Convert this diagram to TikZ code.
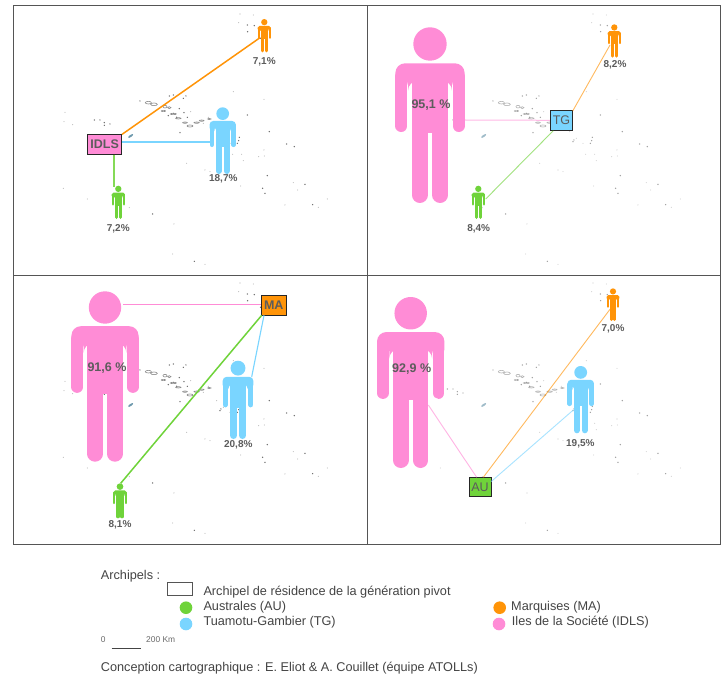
\documentclass[tikz,border=0pt]{standalone}
\usepackage{fontspec}
\setmainfont{Liberation Sans}
\definecolor{cpink}{HTML}{FF8CD6}
\definecolor{cblue}{HTML}{7AD5FF}
\definecolor{cgreen}{HTML}{6FD33A}
\definecolor{corange}{HTML}{FF9408}
\definecolor{ctext}{HTML}{5C5C5C}
\definecolor{cframe}{HTML}{555555}
\definecolor{clegend}{HTML}{444444}
\tikzset{
  archbox/.style={draw=black!85,line width=0.8pt,inner sep=0pt,text=ctext,font=\fontsize{12.5}{14}\selectfont},
  pct/.style={text=ctext,inner sep=0pt,font=\fontsize{10}{12}\selectfont\bfseries},
  bigpct/.style={text=ctext,inner sep=0pt,font=\fontsize{12.5}{14}\selectfont\bfseries},
  legtext/.style={text=clegend,inner sep=0pt,anchor=west,font=\fontsize{12.7}{15}\selectfont},
  smalltext/.style={text=clegend!80,inner sep=0pt,anchor=west,font=\fontsize{8.4}{10}\selectfont},
  legdot/.style={circle,inner sep=0pt,minimum size=12.6pt},
  thick link/.style={line width=1.5pt},
  thin link/.style={line width=0.9pt,opacity=0.65},
}
% centre x, top y, height, colour
\newcommand{\figperson}[4]{%
  \begin{scope}[shift={(#1,#2)}]
    \pgfmathsetmacro{\hh}{#3}
    \fill[#4] (0,0.095*\hh) circle [radius=0.095*\hh pt];
    \fill[#4,rounded corners=0.055*\hh pt] (-0.197*\hh,0.36*\hh) -- (-0.197*\hh,0.205*\hh) -- (0.197*\hh,0.205*\hh) -- (0.197*\hh,0.36*\hh) -- (0.125*\hh,0.36*\hh) -- (0.125*\hh,0.305*\hh) -- (-0.125*\hh,0.305*\hh) -- (-0.125*\hh,0.36*\hh) -- cycle;
    \fill[#4] (-0.104*\hh,0.25*\hh) rectangle (0.104*\hh,0.6*\hh);
    \draw[#4,line width=0.068*\hh pt,line cap=round] (-0.163*\hh,0.28*\hh) -- (-0.163*\hh,0.562*\hh);
    \draw[#4,line width=0.068*\hh pt,line cap=round] (0.163*\hh,0.28*\hh) -- (0.163*\hh,0.562*\hh);
    \draw[#4,line width=0.091*\hh pt,line cap=round] (-0.058*\hh,0.55*\hh) -- (-0.058*\hh,0.9545*\hh);
    \draw[#4,line width=0.091*\hh pt,line cap=round] (0.058*\hh,0.55*\hh) -- (0.058*\hh,0.9545*\hh);
  \end{scope}}
% islands: offset x, y, opacity
\newcommand{\islands}[3]{%
  \begin{scope}[shift={(#1,#2)},x=0.3333pt,y=-0.3333pt,opacity=#3]
    \foreach \a/\b in {742/75,763/77,743/95,782/115,520/285,508/288,558/288,550/295,538/326,552/338,562/352,540/398,718/412,712/430,716/422,860/432,883/440,915/553,788/565,795/580,938/614,458/642,583/784,802/527,808/395,742/345,313/368,300/360,330/372,283/360,313/376,505/347,520/340,530/352,495/333,420/303,660/425,663/420}
      \fill[black!60] (\a,\b) circle [radius=2.2];
    \foreach \a/\b in {720/42,760/45,716/68,700/275,792/298,195/337,192/365,218/374,190/565,262/597,388/623,855/615,893/570,880/548,955/622,982/597,615/793,518/762,522/672,722/558,792/450,776/470,793/468,725/463,698/463,730/482,560/490,572/335,610/370,625/352,650/395,670/415,690/430,630/515,615/510}
      \fill[black!30] (\a,\b) circle [radius=1.6];
    \foreach \a/\b/\c/\d in {445/308/9/4,462/313/10/4,495/320/6/4,508/323/5/3,490/333/6/2,520/342/9/2,535/355/8/2,555/368/7/2,570/378/9/3,590/368/8/2,605/362/7/2,628/357/5/2}
      \draw[black!45,line width=0.6pt] (\a,\b) ellipse [x radius=\c,y radius=\d];
    \fill[black!20!cblue!60!gray,rotate around={35:(392,408)}] (392,408) ellipse [x radius=9,y radius=3];
  \end{scope}}
\begin{document}
\begin{tikzpicture}[x=1pt,y=-1pt]
\useasboundingbox (0,0) rectangle (725,679);
\fill[white] (0,0) rectangle (725,679);
% island background
\islands{0}{0}{1}
\islands{353}{0}{0.65}
\islands{0}{269}{1}
\islands{353}{269}{0.65}
% frame
\draw[cframe,line width=1pt] (13.5,6) rectangle (720.5,544.5);
\draw[cframe,line width=1pt] (367,6) -- (367,544.5);
\draw[cframe,line width=1pt] (13.5,275) -- (720.5,275);

% panel 1
\node[archbox,fill=cpink,minimum width=34pt,minimum height=19.6pt] (idls) at (104.7,144.5) {\textbf{IDLS}};
\coordinate (p1o) at (260,37.7);
\coordinate (p1b) at (210,142);
\coordinate (p1g) at (114,186.7);
\draw[corange,thick link] (idls.north east) -- (p1o);
\draw[cblue,thick link] (idls.east |- p1b) -- (p1b);
\draw[cgreen!85!white,thick link] (idls.south -| p1g) -- (p1g);
\figperson{264.3}{19}{33.3}{corange}
\figperson{222.7}{107.3}{66.7}{cblue}
\figperson{118.3}{185.7}{33.3}{cgreen}
\node[pct] (l11) at (264.3,61.3) {7,1\%};
\node[pct] (l12) at (223.3,179) {18,7\%};
\node[pct] (l13) at (118.3,229) {7,2\%};

% panel 2
\node[archbox,fill=cblue,minimum width=22.4pt,minimum height=20pt] (tg) at (561.5,120.3) {TG};
\coordinate (p2p) at (465,120);
\coordinate (p2o) at (610,45);
\coordinate (p2g) at (485.7,199);
\coordinate (p2a) at (572.7,111);
\coordinate (p2b) at (553.3,130.7);
\draw[cpink,line width=1pt,opacity=0.6] (p2p) -- (tg.west);
\draw[corange,thin link] (p2a) -- (p2o);
\draw[cgreen,thin link] (p2b) -- (p2g);
\figperson{430}{27.3}{175.7}{cpink}
\figperson{614.3}{24.3}{33.3}{corange}
\figperson{478.3}{185.7}{33.3}{cgreen}
\node[bigpct] (l21) at (431,104.7) {95,1 \%};
\node[pct] (l22) at (615,64.7) {8,2\%};
\node[pct] (l23) at (478.7,229) {8,4\%};

% panel 3
\node[archbox,fill=corange,minimum width=24.3pt,minimum height=19.6pt] (ma) at (273.8,305.5) {\textbf{MA}};
\coordinate (p3p) at (123.3,304.7);
\coordinate (p3b) at (251.7,376.7);
\coordinate (p3g) at (120.7,483.3);
\coordinate (p3c) at (264,315.3);
\coordinate (p3d) at (261.7,315.3);
\draw[cpink,thick link] (p3p) -- (ma.west |- p3p);
\draw[cblue,line width=1.1pt] (p3c) -- (p3b);
\figperson{105}{291.3}{170.4}{cpink}
\figperson{238}{360.7}{78.3}{cblue}
\figperson{120}{483.3}{35}{cgreen}
\draw[cgreen,line width=1.5pt] (p3d) -- (p3g);
\node[bigpct] (l31) at (107,367.7) {91,6 \%};
\node[pct] (l32) at (238.3,444.7) {20,8\%};
\node[pct] (l33) at (120,524.3) {8,1\%};

% panel 4
\node[archbox,fill=cgreen,minimum width=22pt,minimum height=19.4pt] (au) at (480,487) {AU};
\coordinate (p4p) at (428.3,405);
\coordinate (p4o) at (610,309.3);
\coordinate (p4b) at (573.3,410);
\coordinate (p4x) at (476.7,477.3);
\coordinate (p4y) at (483.3,477.3);
\coordinate (p4z) at (491,481.7);
\draw[cpink,thin link] (p4x) -- (p4p);
\draw[corange,thin link] (p4y) -- (p4o);
\draw[cblue,thin link] (p4z) -- (p4b);
\figperson{410.7}{297}{171}{cpink}
\figperson{613}{288.3}{32.7}{corange}
\figperson{580.7}{366}{67.3}{cblue}
\node[bigpct] (l41) at (411.7,368.7) {92,9 \%};
\node[pct] (l42) at (613,328.7) {7,0\%};
\node[pct] (l43) at (580.3,443.3) {19,5\%};

% legend
\node[legtext] (t0) at (100.7,576) {Archipels :};
\node[draw=cframe,line width=0.8pt,minimum width=25.4pt,minimum height=13pt,inner sep=0pt] (k0) at (180,589.2) {};
\node[legtext] (t1) at (203.3,591.7) {Archipel de résidence de la génération pivot};
\node[legdot,fill=cgreen] (k1) at (186,607.7) {};
\node[legtext] (t2) at (203.3,607) {Australes (AU)};
\node[legdot,fill=cblue] (k2) at (186,624) {};
\node[legtext] (t3) at (203.3,622.3) {Tuamotu-Gambier (TG)};
\node[legdot,fill=corange] (k3) at (499.7,607.7) {};
\node[legtext] (t4) at (511,607) {Marquises (MA)};
\node[legdot,fill=cpink] (k4) at (499,624) {};
\node[legtext] (t5) at (511.7,622.3) {Iles de la Société (IDLS)};
\node[smalltext] (s0) at (100.7,640) {0};
\node[smalltext] (s1) at (146,640) {200 Km};
\coordinate (sa) at (111.7,648.7);
\coordinate (sb) at (141,648.7);
\draw[clegend,line width=0.8pt] (sa) -- (sb);
\node[legtext] (t6) at (100.7,668.3) {Conception cartographique : E. Eliot \& A. Couillet (équipe ATOLLs)};
\end{tikzpicture}
\end{document}
